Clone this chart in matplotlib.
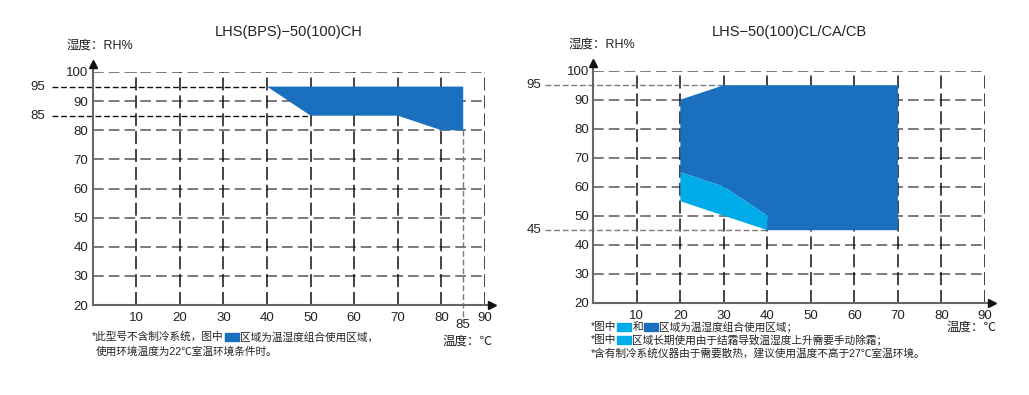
import matplotlib
matplotlib.use("Agg")
import matplotlib.pyplot as plt
import matplotlib.patches as patches

plt.rcParams['font.family'] = ['Liberation Sans', 'Noto Sans CJK SC', 'DejaVu Sans']

W, H = 1029, 395

# data
x_ticks = [10, 20, 30, 40, 50, 60, 70, 80, 90]
y_ticks = [20, 30, 40, 50, 60, 70, 80, 90, 100]

left_title = "LHS(BPS)\u221250(100)CH"
left_region_x = [40, 85, 85, 80, 70, 50]
left_region_y = [95, 95, 80, 80, 85, 85]
left_marks = [95, 85]          # extra humidity marks
left_mark_x = [40, 50]         # where they meet the region
left_temp_mark = 85

right_title = "LHS\u221250(100)CL/CA/CB"
right_dark_x = [20, 30, 70, 70, 40, 40, 30, 20]
right_dark_y = [90, 95, 95, 45, 45, 50, 60, 65]
right_light_x = [20, 30, 40, 40, 30, 20]
right_light_y = [65, 60, 50, 45, 50, 55]
right_marks = [95, 45]
right_mark_x = [30, 40]

DARK = "#1b6fbf"
LIGHT = "#00abe9"
GREY = "#7a7a7a"

fig = plt.figure(figsize=(W / 100, H / 100), dpi=100)


def px_axes(x0, y0, x1, y1):
    return fig.add_axes([x0 / W, 1 - y1 / H, (x1 - x0) / W, (y1 - y0) / H])


def fig_text(x, y, s, **kw):
    return fig.text(x / W, 1 - y / H, s, **kw)


def setup(ax):
    ax.set_xlim(0, 90)
    ax.set_ylim(20, 100)
    for s in ax.spines.values():
        s.set_visible(False)
    ax.set_xticks(x_ticks)
    ax.set_yticks(y_ticks)
    ax.tick_params(length=0, labelsize=9.5, colors="#222222", pad=6)
    ax.tick_params(axis="y", pad=3)
    ax.tick_params(axis="x", pad=5)
    for y in y_ticks[1:]:
        ax.plot([0, 90], [y, y], color=GREY, lw=1.4, ls=(0, (5.5, 2.6)), zorder=1)
    for x in x_ticks:
        ax.plot([x, x], [20, 100], color="#111111", lw=1.1, ls=(0, (8.5, 3.2)), zorder=1)
    # axes with arrows
    ax.plot([0, 0], [20, 102], color="#666666", lw=1.5, clip_on=False, zorder=4)
    ax.plot([0, 91.5], [20, 20], color="#666666", lw=1.5, clip_on=False, zorder=4)
    ax.plot([0], [102.8], marker="^", color="#111111", ms=6, clip_on=False, zorder=5)
    ax.plot([91.6], [20], marker=">", color="#111111", ms=6, clip_on=False, zorder=5)


def mark_lines(ax, marks, mark_x, x_start, color, label_x):
    for m, mx in zip(marks, mark_x):
        ax.plot([x_start, mx], [m, m], color=color, lw=1.0, ls=(0, (4.2, 2.0)),
                clip_on=False, zorder=2)
        ax.text(label_x, m, str(m), ha="right", va="center", fontsize=9.5,
                color="#222222", clip_on=False)


def rich_line(x, y, parts, size=7.7):
    r = fig.canvas.get_renderer()
    cx = x
    for p in parts:
        if isinstance(p, tuple):
            fig.patches.append(patches.Rectangle(((cx + 1) / W, 1 - (y + 4) / H), 14 / W, 8 / H,
                                                 transform=fig.transFigure, color=p[0]))
            cx += 16
        else:
            t = fig_text(cx, y, p, fontsize=size, va="center", ha="left", color="#222222")
            cx += t.get_window_extent(r).width


# left chart
axl = px_axes(92.7, 72, 485, 305)
setup(axl)
axl.fill(left_region_x, left_region_y, color=DARK, lw=0, zorder=3)
mark_lines(axl, left_marks, left_mark_x, -9.4, "#111111", -10.8)
axl.plot([left_temp_mark] * 2, [80, 15.2], color=GREY, lw=1.0, ls=(0, (4.2, 2.0)),
         clip_on=False, zorder=2)
axl.text(left_temp_mark, 13.0, str(left_temp_mark), ha="center", va="center", fontsize=9.5,
         color="#222222", clip_on=False)

fig_text(289, 32, left_title, ha="center", va="center", fontsize=10.5, color="#222222")
fig_text(67, 46, "湿度：RH%", ha="left", va="center", fontsize=9, color="#222222")
fig_text(468, 342, "温度：℃", ha="center", va="center", fontsize=9, color="#222222")
rich_line(92, 337, ["*此型号不含制冷系统，图中", (DARK,), "区域为温湿度组合使用区域，"])
rich_line(96, 352, ["使用环境温度为22℃室温环境条件时。"])

# right chart
axr = px_axes(593.3, 70.7, 985, 302.7)
setup(axr)
axr.fill(right_dark_x, right_dark_y, color=DARK, lw=0, zorder=3)
axr.fill(right_light_x, right_light_y, color=LIGHT, lw=0, zorder=3)
mark_lines(axr, right_marks, right_mark_x, -11.0, GREY, -11.9)

fig_text(789, 32, right_title, ha="center", va="center", fontsize=10.5, color="#222222")
fig_text(569, 45, "湿度：RH%", ha="left", va="center", fontsize=9, color="#222222")
fig_text(972, 328, "温度：℃", ha="center", va="center", fontsize=9, color="#222222")
rich_line(591, 327, ["*图中", (LIGHT,), "和", (DARK,), "区域为温湿度组合使用区域；"])
rich_line(591, 340, ["*图中", (LIGHT,), "区域长期使用由于结霜导致温湿度上升需要手动除霜；"])
rich_line(591, 353, ["*含有制冷系统仪器由于需要散热，建议使用温度不高于27℃室温环境。"])

fig.savefig("out.png", dpi=100)
